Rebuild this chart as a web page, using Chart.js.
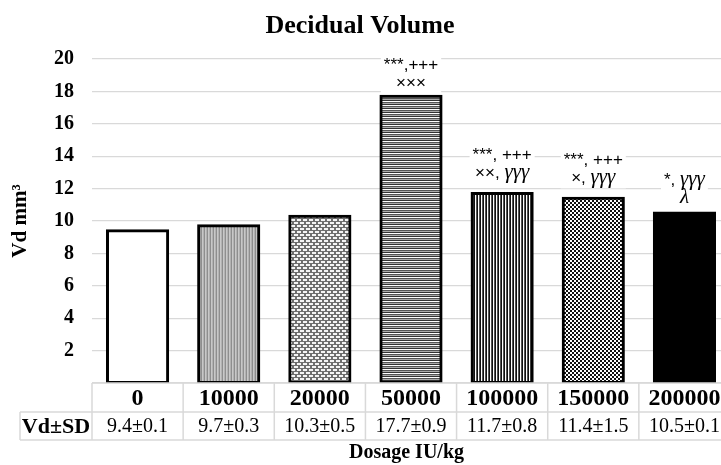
<!DOCTYPE html>
<html><head><meta charset="utf-8">
<script src="https://cdn.jsdelivr.net/npm/chart.js@4/dist/chart.umd.min.js"></script>
<style>
html,body{margin:0;padding:0;background:#fff;overflow:hidden;width:721px;height:465px}
#wrap{position:relative;width:730px;height:465px}
canvas{display:block}
</style>
</head><body>
<div id="wrap"><canvas id="c" width="730" height="465"></canvas></div>
<script>
// ---- data ----
const categories = ['0', '10000', '20000', '50000', '100000', '150000', '200000'];
const vdMean = [9.4, 9.7, 10.3, 17.7, 11.7, 11.4, 10.5];
const vdSD = [0.1, 0.3, 0.5, 0.9, 0.8, 1.5, 0.1];
const yTicks = [2, 4, 6, 8, 10, 12, 14, 16, 18, 20];
const sigLine1 = ['', '', '', '***,+++', '***, +++', '***, +++', '*, γγγ'];
const sigLine2 = ['', '', '', '×××', '××, γγγ', '×, γγγ', 'λ'];
const chartTitle = 'Decidual Volume';
const yTitle = 'Vd mm³';
const xTitle = 'Dosage IU/kg';
const rowHeader = 'Vd±SD';

// ---- patterns ----
function makePattern(w, h, draw) {
  const t = document.createElement('canvas');
  t.width = w; t.height = h;
  const g = t.getContext('2d');
  draw(g);
  return document.getElementById('c').getContext('2d').createPattern(t, 'repeat');
}
const fills = [
  '#ffffff',
  makePattern(3, 1, g => { g.fillStyle = '#8e8e8e'; g.fillRect(0,0,1,1); g.fillStyle = '#c8c8c8'; g.fillRect(1,0,1,1); g.fillStyle = '#b2b2b2'; g.fillRect(2,0,1,1); }),
  makePattern(6, 6, g => { g.fillStyle = '#6e6e6e'; g.fillRect(0,0,6,6); g.fillStyle = '#f4f4f4'; g.fillRect(0,0,4,2); g.fillRect(3,3,3,2); g.fillRect(0,3,1,2); }),
  makePattern(1, 4, g => { g.fillStyle = '#333'; g.fillRect(0,0,1,1); g.fillStyle = '#fff'; g.fillRect(0,1,1,1); g.fillStyle = '#555'; g.fillRect(0,2,1,1); g.fillStyle = '#aaa'; g.fillRect(0,3,1,1); }),
  makePattern(3, 1, g => { g.fillStyle = '#111'; g.fillRect(0,0,1,1); g.fillStyle = '#fff'; g.fillRect(1,0,1,1); g.fillStyle = '#555'; g.fillRect(2,0,1,1); }),
  makePattern(4, 4, g => { g.fillStyle = '#fff'; g.fillRect(0,0,4,4); g.fillStyle = '#111'; g.fillRect(0,0,2,2); g.fillRect(2,2,2,2); }),
  '#000000'
];

const SERIF = '"Liberation Serif", "Times New Roman", serif';
const SANS = '"Liberation Sans", Arial, sans-serif';

function segFont(ch) {
  if (ch === 'γ' || ch === 'λ') return 'italic 21px ' + SERIF;
  return '17px ' + SANS;
}
function measureRich(ctx, text) {
  let w = 0;
  for (const ch of text) { ctx.font = segFont(ch); w += ctx.measureText(ch).width; }
  return w;
}
function drawRich(ctx, text, cx, baseline) {
  let x = cx - measureRich(ctx, text) / 2;
  for (const ch of text) {
    ctx.font = segFont(ch);
    ctx.fillText(ch, x, baseline);
    x += ctx.measureText(ch).width;
  }
}
const gapAbove = s => (/γ/.test(s) ? 15 : (/λ/.test(s) ? 10 : 8));

const decor = {
  id: 'decor',
  afterDatasetsDraw(chart) {
    const ctx = chart.ctx;
    const meta = chart.getDatasetMeta(0);
    ctx.save();
    ctx.textAlign = 'left';
    ctx.textBaseline = 'alphabetic';
    meta.data.forEach((bar, i) => {
      const l1 = sigLine1[i], l2 = sigLine2[i];
      if (!l1 && !l2) return;
      const top = bar.y;
      const b2 = top - gapAbove(l2);
      const b1 = b2 - 18;
      const w = Math.max(measureRich(ctx, l1), measureRich(ctx, l2)) + 6;
      ctx.fillStyle = '#fff';
      ctx.fillRect(bar.x - w / 2, b1 - 14, w, (b2 + 5) - (b1 - 14));
      ctx.fillStyle = '#000';
      drawRich(ctx, l1, bar.x, b1);
      drawRich(ctx, l2, bar.x, b2);
    });
    ctx.restore();
  },
  afterDraw(chart) {
    const ctx = chart.ctx;
    const xs = chart.scales.x;
    const area = chart.chartArea;
    const half = (xs.getPixelForValue(1) - xs.getPixelForValue(0)) / 2;
    const t0 = area.bottom, t1 = t0 + 29, t2 = t1 + 28;
    const leftHead = 20;
    ctx.save();
    // table grid
    ctx.strokeStyle = '#d9d9d9';
    ctx.lineWidth = 1.5;
    ctx.beginPath();
    ctx.moveTo(area.left, t0); ctx.lineTo(area.right, t0);
    ctx.moveTo(leftHead, t1); ctx.lineTo(area.right, t1);
    ctx.moveTo(leftHead, t2); ctx.lineTo(area.right, t2);
    ctx.moveTo(leftHead, t1); ctx.lineTo(leftHead, t2);
    ctx.moveTo(area.left, t0); ctx.lineTo(area.left, t2);
    categories.forEach((c, i) => {
      const xr = xs.getPixelForValue(i) + half;
      ctx.moveTo(xr, t0); ctx.lineTo(xr, t2);
    });
    ctx.stroke();
    // table text
    ctx.fillStyle = '#000';
    ctx.textAlign = 'center';
    ctx.textBaseline = 'alphabetic';
    categories.forEach((c, i) => {
      const cx = xs.getPixelForValue(i);
      ctx.font = 'bold 24px ' + SERIF;
      ctx.fillText(c, cx, t0 + 22);
      ctx.font = '20px ' + SERIF;
      ctx.fillText(vdMean[i].toFixed(1) + '±' + vdSD[i].toFixed(1), cx, t1 + 20);
    });
    ctx.font = 'bold 22px ' + SERIF;
    ctx.fillText(rowHeader, (leftHead + area.left) / 2, t1 + 21);
    // x title
    ctx.font = 'bold 20px ' + SERIF;
    ctx.fillText(xTitle, (area.left + 721) / 2, 458);
    // chart title
    ctx.font = 'bold 26px ' + SERIF;
    ctx.fillText(chartTitle, 360, 33);
    ctx.restore();
  }
};

new Chart(document.getElementById('c'), {
  type: 'bar',
  data: {
    labels: categories,
    datasets: [{
      data: vdMean,
      backgroundColor: fills,
      borderColor: '#000',
      borderWidth: 3,
      borderSkipped: false,
      inflateAmount: 1.5,
      categoryPercentage: 1,
      barPercentage: 0.66
    }]
  },
  plugins: [decor],
  options: {
    responsive: false,
    animation: false,
    events: [],
    layout: { padding: { top: 59, bottom: 82, left: 0, right: 0 } },
    plugins: { legend: { display: false }, tooltip: { enabled: false }, title: { display: false } },
    scales: {
      x: { display: false },
      y: {
        min: 0, max: 20,
        afterFit(s) { s.width = 92; },
        afterBuildTicks(s) { s.ticks = [0, ...yTicks].map(v => ({ value: v })); },
        ticks: {
          padding: 18,
          color: '#000',
          font: { family: SERIF, size: 20, weight: 'bold' },
          callback: v => (yTicks.includes(v) ? String(v) : '')
        },
        grid: { color: '#d9d9d9', lineWidth: 1.2, drawTicks: false },
        border: { display: false },
        title: {
          display: true, text: yTitle, color: '#000',
          font: { family: SERIF, size: 21, weight: 'bold' },
          padding: { top: 8, bottom: 0 }
        }
      }
    }
  }
});
</script>
</body></html>
